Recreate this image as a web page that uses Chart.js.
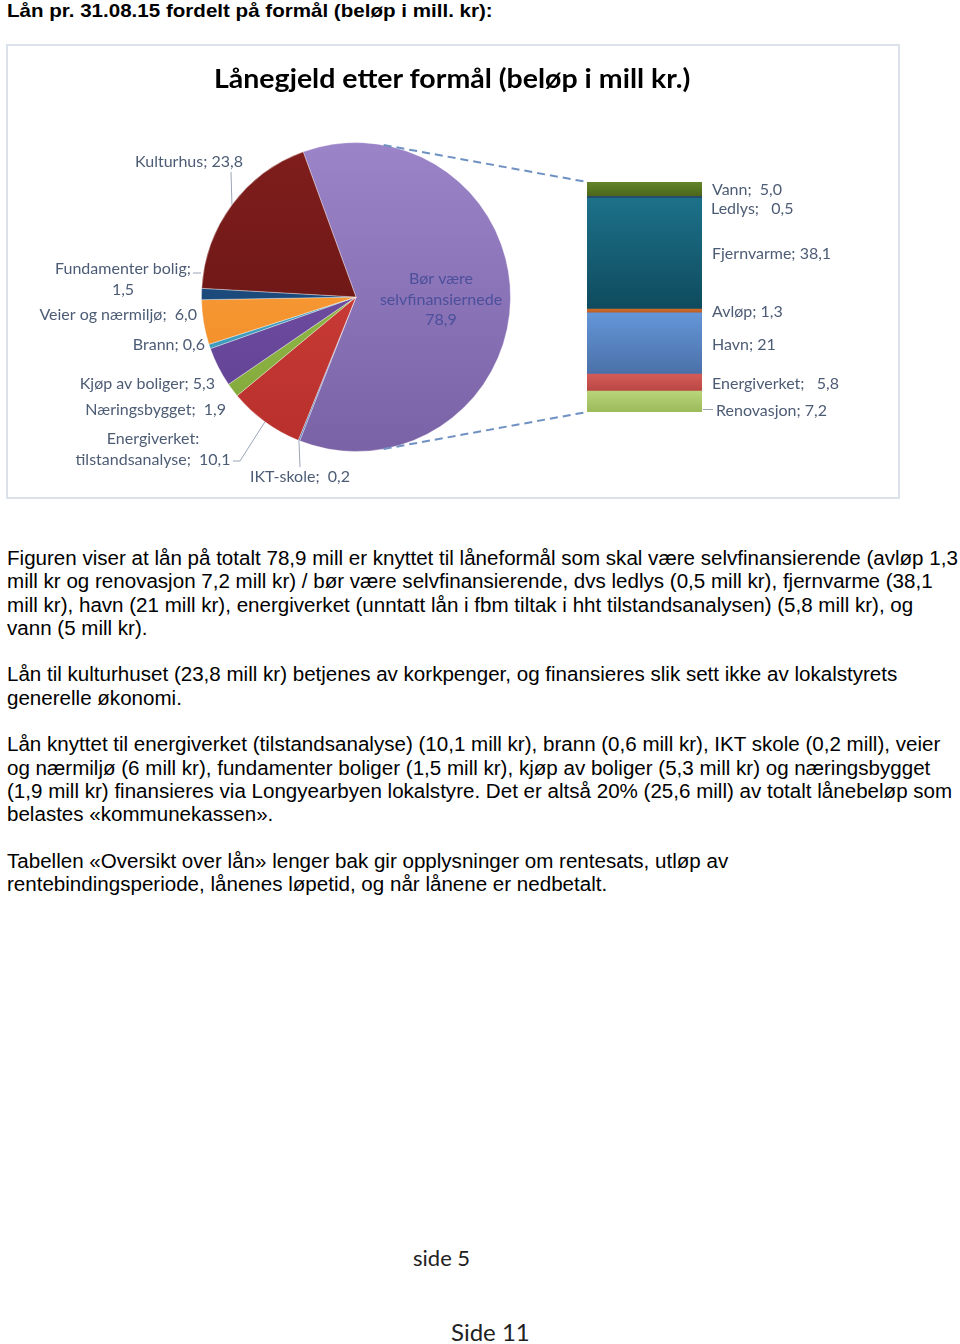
<!DOCTYPE html>
<html>
<head>
<meta charset="utf-8">
<script src="https://cdn.jsdelivr.net/npm/chart.js@4.4.1/dist/chart.umd.min.js"></script>
<style>
  html, body { margin: 0; padding: 0; background: #fff; }
  body {
    width: 960px; height: 1344px; position: relative; overflow: hidden;
    font-family: 'Liberation Sans', Arial, sans-serif; color: #000;
  }
  .head {
    position: absolute; left: 7px; top: 0px; font-weight: bold; font-size: 19px;
    white-space: nowrap; transform-origin: 0 0;
  }
  .frame {
    position: absolute; left: 6px; top: 44px; width: 894px; height: 455px;
    border: 2px solid #dce2ea; box-sizing: border-box;
  }
  canvas { position: absolute; left: 0; top: 0; }
  .chart-title {
    position: absolute; top: 62px; left: 0; white-space: nowrap;
    font-family: Lato, sans-serif; font-weight: bold; font-size: 26px; color: #000;
    transform-origin: 0 0;
  }
  .text { position: absolute; left: 7px; top: 547px; font-size: 20px; line-height: 23.3px; }
  .text div { white-space: pre; height: 23.3px; transform-origin: 0 0; }
  .foot { position: absolute; font-family: Lato, sans-serif; color: #222; white-space: nowrap; }
</style>
</head>
<body>
<div class="head" id="head">Lån pr. 31.08.15 fordelt på formål (beløp i mill. kr):</div>
<div class="frame"></div>
<canvas id="pieChart" width="960" height="520"></canvas>
<canvas id="barChart" width="960" height="520"></canvas>
<div class="chart-title" id="chartTitle">Lånegjeld etter formål (beløp i mill kr.)</div>

<div class="text" id="bodyText">
<div>Figuren viser at lån på totalt 78,9 mill er knyttet til låneformål som skal være selvfinansierende (avløp 1,3</div>
<div>mill kr og renovasjon 7,2 mill kr) / bør være selvfinansierende, dvs ledlys (0,5 mill kr), fjernvarme (38,1</div>
<div>mill kr), havn (21 mill kr), energiverket (unntatt lån i fbm tiltak i hht tilstandsanalysen) (5,8 mill kr), og</div>
<div>vann (5 mill kr).</div>
<div> </div>
<div>Lån til kulturhuset (23,8 mill kr) betjenes av korkpenger, og finansieres slik sett ikke av lokalstyrets</div>
<div>generelle økonomi.</div>
<div> </div>
<div>Lån knyttet til energiverket (tilstandsanalyse) (10,1 mill kr), brann (0,6 mill kr), IKT skole (0,2 mill), veier</div>
<div>og nærmiljø (6 mill kr), fundamenter boliger (1,5 mill kr), kjøp av boliger (5,3 mill kr) og næringsbygget</div>
<div>(1,9 mill kr) finansieres via Longyearbyen lokalstyre. Det er altså 20% (25,6 mill) av totalt lånebeløp som</div>
<div>belastes «kommunekassen».</div>
<div> </div>
<div>Tabellen «Oversikt over lån» lenger bak gir opplysninger om rentesats, utløp av</div>
<div>rentebindingsperiode, lånenes løpetid, og når lånene er nedbetalt.</div>
</div>

<div class="foot" style="left:413px; top:1244px; font-size:22px;">side 5</div>
<div class="foot" style="left:451px; top:1317px; font-size:24px;">Side 11</div>

<script>
// pie slices, clockwise from the top
const pieLabels = [
  'Bør være\nselvfinansiernede',
  'IKT-skole',
  'Energiverket:\ntilstandsanalyse',
  'Næringsbygget',
  'Kjøp av boliger',
  'Brann',
  'Veier og nærmiljø',
  'Fundamenter bolig',
  'Kulturhus',
];
const pieValues = [78.9, 0.2, 10.1, 1.9, 5.3, 0.6, 6.0, 1.5, 23.8];

// stacked bar, bottom to top
const barLabels = ['Renovasjon', 'Energiverket', 'Havn', 'Avløp', 'Fjernvarme', 'Ledlys', 'Vann'];
const barValues = [7.2, 5.8, 21, 1.3, 38.1, 0.5, 5.0];
const barDecimals = [1, 1, 0, 1, 1, 1, 1];

const pieColors = [
  ['#9c84c8', '#7a62a6'],
  ['#5b8bd0', '#4570b0'],
  ['#d8453f', '#b72f2b'],
  ['#9dc44c', '#7fa63a'],
  ['#7c58ae', '#5e3f90'],
  ['#4fb2d2', '#3890b0'],
  ['#fca545', '#ef8820'],
  ['#21558b', '#163e6b'],
  ['#801e1c', '#601312'],
];
const barColors = [
  ['#b9d57b', '#9bba58'],
  ['#d45c58', '#b94643'],
  ['#6396d8', '#4b70a8'],
  ['#cf6c2c', '#b65a22'],
  ['#1c7189', '#0f4b5e'],
  ['#24477a', '#1b3a66'],
  ['#62842a', '#4a6519'],
];

const labelColor = '#4d5c75';
const labelFont = '16px Lato, sans-serif';

function fmt(value, decimals = 1) {
  return value.toFixed(decimals).replace('.', ',');
}

// label placement for pie slices (same order as pieLabels)
const pieLabelLayout = [
  { x: 441, y: 279, align: 'center', sep: '\n', color: '#4b4f9c' },
  { x: 300, y: 477, align: 'center', sep: ';  ', leader: [[300, 467]] },
  { x: 153, y: 439, align: 'center', sep: ';  ', leader: [[233, 461], [240, 461]] },
  { x: 226, y: 410, align: 'right', sep: ';  ' },
  { x: 215, y: 384, align: 'right', sep: '; ' },
  { x: 205, y: 345, align: 'right', sep: '; ' },
  { x: 197, y: 315, align: 'right', sep: ';  ' },
  { x: 123, y: 269, align: 'center', sep: ';\n', leader: [[193, 273]], leaderEnd: [201, 273] },
  { x: 189, y: 162, align: 'center', sep: '; ', leader: [[231, 172]] },
];

// label placement for bar segments (same order as barLabels)
const barLabelLayout = [
  { dx: 14, dy: 9, sep: '; ', leader: true },
  { dx: 10, dy: 1, sep: ';   ' },
  { dx: 10, dy: 1, sep: '; ' },
  { dx: 10, dy: 1, sep: '; ' },
  { dx: 10, dy: 0, sep: '; ' },
  { dx: 9, dy: 12, sep: ';   ' },
  { dx: 10, dy: 1, sep: ';  ' },
];

const pieLabelsPlugin = {
  id: 'pieLabels',
  afterDatasetsDraw(chart) {
    const { ctx } = chart;
    const arcs = chart.getDatasetMeta(0).data;

    ctx.save();
    ctx.font = labelFont;
    ctx.textBaseline = 'middle';

    arcs.forEach((arc, i) => {
      const layout = pieLabelLayout[i];
      const mid = (arc.startAngle + arc.endAngle) / 2;
      const edge = [arc.x + Math.cos(mid) * arc.outerRadius, arc.y + Math.sin(mid) * arc.outerRadius];

      if (layout.leader) {
        const end = layout.leaderEnd || edge;
        ctx.strokeStyle = '#9aa6b6';
        ctx.lineWidth = 1;
        ctx.beginPath();
        ctx.moveTo(layout.leader[0][0], layout.leader[0][1]);
        layout.leader.slice(1).forEach((p) => ctx.lineTo(p[0], p[1]));
        ctx.lineTo(end[0], end[1]);
        ctx.stroke();
      }

      const text = pieLabels[i] + layout.sep + fmt(pieValues[i]);
      ctx.fillStyle = layout.color || labelColor;
      ctx.textAlign = layout.align;
      text.split('\n').forEach((line, n) => {
        ctx.fillText(line, layout.x, layout.y + n * 20.5);
      });
    });

    ctx.restore();
  },
};

const pieChart = new Chart(document.getElementById('pieChart'), {
  type: 'pie',
  data: {
    labels: pieLabels,
    datasets: [
      {
        data: pieValues,
        backgroundColor(context) {
          const area = context.chart.chartArea;
          const c = pieColors[context.dataIndex];
          if (!area) {
            return c[0];
          }
          const g = context.chart.ctx.createLinearGradient(0, area.top, 0, area.bottom);
          g.addColorStop(0, c[0]);
          g.addColorStop(1, c[1]);
          return g;
        },
        borderColor: 'rgba(255,255,255,0.35)',
        borderWidth: 1,
      },
    ],
  },
  options: {
    responsive: false,
    animation: false,
    rotation: -20,
    layout: {
      padding: { left: 201, right: 449, top: 142, bottom: 68 },
    },
    plugins: {
      legend: { display: false },
      tooltip: { enabled: false },
    },
  },
  plugins: [pieLabelsPlugin],
});

const barTotal = barValues.reduce((a, b) => a + b, 0);

const barLabelsPlugin = {
  id: 'barLabels',
  afterDatasetsDraw(chart) {
    const { ctx } = chart;

    // dashed connectors: tangent from the pie to the bar corners
    const arc = pieChart.getDatasetMeta(0).data[0];
    const cx = arc.x;
    const cy = arc.y;
    const r = arc.outerRadius;
    const left = chart.chartArea.left;
    const corners = [
      [left, chart.scales.y.getPixelForValue(barTotal), -1],
      [left, chart.scales.y.getPixelForValue(0), 1],
    ];

    ctx.save();
    ctx.strokeStyle = '#6f91c2';
    ctx.lineWidth = 2;
    ctx.setLineDash([8, 5]);
    corners.forEach(([px, py, side]) => {
      const d = Math.hypot(px - cx, py - cy);
      const theta = Math.atan2(py - cy, px - cx);
      const a = theta + side * Math.acos(r / d);
      ctx.beginPath();
      ctx.moveTo(cx + Math.cos(a) * r, cy + Math.sin(a) * r);
      ctx.lineTo(px, py);
      ctx.stroke();
    });
    ctx.setLineDash([]);

    ctx.font = labelFont;
    ctx.textBaseline = 'middle';
    ctx.textAlign = 'left';
    ctx.fillStyle = labelColor;

    chart.data.datasets.forEach((ds, i) => {
      const bar = chart.getDatasetMeta(i).data[0];
      const layout = barLabelLayout[i];
      const right = bar.x + bar.width / 2;
      const mid = (bar.y + bar.base) / 2;
      const x = right + layout.dx;
      const y = mid + layout.dy;

      if (layout.leader) {
        ctx.strokeStyle = '#9aa6b6';
        ctx.lineWidth = 1;
        ctx.beginPath();
        ctx.moveTo(right + 1, y - 1);
        ctx.lineTo(x - 3, y - 1);
        ctx.stroke();
      }

      ctx.fillText(barLabels[i] + layout.sep + fmt(barValues[i], barDecimals[i]), x, y);
    });

    ctx.restore();
  },
};

new Chart(document.getElementById('barChart'), {
  type: 'bar',
  data: {
    labels: [''],
    datasets: barLabels.map((name, i) => ({
      label: name,
      data: [barValues[i]],
      backgroundColor(context) {
        const y = context.chart.scales.y;
        const c = barColors[i];
        if (!y) {
          return c[0];
        }
        const below = barValues.slice(0, i).reduce((a, b) => a + b, 0);
        const top = y.getPixelForValue(below + barValues[i]);
        const bottom = y.getPixelForValue(below);
        if (!isFinite(top) || !isFinite(bottom) || top === bottom) {
          return c[0];
        }
        const g = context.chart.ctx.createLinearGradient(0, top, 0, bottom);
        g.addColorStop(0, c[0]);
        g.addColorStop(1, c[1]);
        return g;
      },
      borderWidth: 0,
      barPercentage: 1,
      categoryPercentage: 1,
    })),
  },
  options: {
    responsive: false,
    animation: false,
    layout: {
      padding: { left: 587, right: 258, top: 182, bottom: 108 },
    },
    scales: {
      x: { display: false, stacked: true },
      y: { display: false, stacked: true, min: 0, max: barTotal },
    },
    plugins: {
      legend: { display: false },
      tooltip: { enabled: false },
    },
  },
  plugins: [barLabelsPlugin],
});

// squeeze text lines to the widths they have in the scanned page
function fitWidth(el, target) {
  const w = el.scrollWidth;
  if (w > 0) {
    el.style.transform = `scaleX(${target / w})`;
  }
}

fitWidth(document.getElementById('head'), 486);

const title = document.getElementById('chartTitle');
fitWidth(title, 476);
title.style.left = '214px';

const bodyLines = document.querySelectorAll('#bodyText div');
const firstLine = bodyLines[0];
const probe = document.createElement('span');
probe.textContent = firstLine.textContent;
firstLine.textContent = '';
firstLine.appendChild(probe);
const bodyScale = 951 / probe.offsetWidth;
bodyLines.forEach((line) => {
  line.style.transform = `scaleX(${bodyScale})`;
});
</script>
</body>
</html>
